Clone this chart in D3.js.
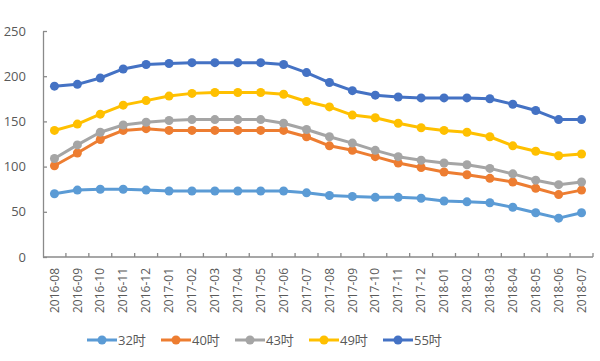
<!DOCTYPE html>
<meta charset="utf-8">
<body style="margin:0;background:#fff">
<div id="chart"></div>
<script src="https://d3js.org/d3.v7.min.js"></script>
<script>

// data
var months = ["2016-08","2016-09","2016-10","2016-11","2016-12","2017-01","2017-02","2017-03",
  "2017-04","2017-05","2017-06","2017-07","2017-08","2017-09","2017-10","2017-11","2017-12",
  "2018-01","2018-02","2018-03","2018-04","2018-05","2018-06","2018-07"];
var s32 = [70,74,75,75,74,73,73,73,73,73,73,71,68,67,66,66,65,62,61,60,55,49,43,49];
var s40 = [101,115,130,140,142,140,140,140,140,140,140,133,123,118,111,104,99,94,91,87,83,76,69,74];
var s43 = [109,124,138,146,149,151,152,152,152,152,148,141,133,126,118,111,107,104,102,98,92,85,80,83];
var s49 = [140,147,158,168,173,178,181,182,182,182,180,172,166,157,154,148,143,140,138,133,123,117,112,114];
var s55 = [189,191,198,208,213,214,215,215,215,215,213,204,193,184,179,177,176,176,176,175,169,162,152,152];
var seriesNames = ["32吋","40吋","43吋","49吋","55吋"];
var yTicks = [0,50,100,150,200,250];

var series = [s32, s40, s43, s49, s55];
var colors = ["#5b9bd5","#ed7d31","#a5a5a5","#ffc000","#4472c4"];

var width = 600, height = 361;
var font = "'Open Sans','Noto Sans CJK SC',sans-serif";
var textColor = "#595959", axisColor = "#8a8a8a";

var svg = d3.select("#chart").append("svg")
    .attr("width", width)
    .attr("height", height)
    .style("font-family", font);

// scales
var x = d3.scaleBand().domain(months).range([43, 593]);
var y = d3.scaleLinear().domain([0, 250]).range([257, 31]);

// y axis, ticks pointing inward
var yAxis = svg.append("g")
    .attr("transform", "translate(43,0)")
    .call(d3.axisLeft(y).tickValues(yTicks).tickSizeInner(-4).tickSizeOuter(0).tickPadding(17));
yAxis.select(".domain").attr("stroke", axisColor).attr("stroke-width", 1.3);
yAxis.selectAll(".tick line").attr("stroke", axisColor).attr("stroke-width", 1.3);
yAxis.selectAll("text").attr("fill", textColor).style("font-size", "13px").style("font-family", font);

// x axis line
svg.append("line")
    .attr("x1", x.range()[0]).attr("x2", x.range()[1])
    .attr("y1", y(0)).attr("y2", y(0))
    .attr("stroke", axisColor).attr("stroke-width", 1.3);

// x tick marks at band boundaries, pointing up
var bounds = months.map(function(m) { return x(m); }).concat([x.range()[1]]);
svg.selectAll(".xtick")
    .data(bounds.slice(1))
  .enter().append("line")
    .attr("class", "xtick")
    .attr("x1", function(d) { return d; })
    .attr("x2", function(d) { return d; })
    .attr("y1", y(0)).attr("y2", y(0) - 4)
    .attr("stroke", axisColor).attr("stroke-width", 1.3);

// rotated month labels
svg.selectAll(".xlabel")
    .data(months)
  .enter().append("text")
    .attr("class", "xlabel")
    .attr("transform", function(d) {
      return "translate(" + (x(d) + x.bandwidth() / 2) + ",268) rotate(-90)";
    })
    .attr("dy", "0.35em")
    .attr("text-anchor", "end")
    .attr("fill", textColor)
    .style("font-size", "12px")
    .text(function(d) { return d; });

// lines and markers
var line = d3.line()
    .x(function(d, i) { return x(months[i]) + x.bandwidth() / 2; })
    .y(function(d) { return y(d); });

series.forEach(function(s, k) {
  svg.append("path")
      .datum(s)
      .attr("fill", "none")
      .attr("stroke", colors[k])
      .attr("stroke-width", 3)
      .attr("stroke-linejoin", "round")
      .attr("d", line);

  svg.selectAll(".dot" + k)
      .data(s)
    .enter().append("circle")
      .attr("class", "dot" + k)
      .attr("cx", function(d, i) { return x(months[i]) + x.bandwidth() / 2; })
      .attr("cy", function(d) { return y(d); })
      .attr("r", 4.5)
      .attr("fill", colors[k]);
});

// legend
var legend = svg.selectAll(".legend")
    .data(seriesNames)
  .enter().append("g")
    .attr("class", "legend")
    .attr("transform", function(d, i) { return "translate(" + (87 + i * 74) + ",340)"; });

legend.append("line")
    .attr("x1", 0).attr("x2", 30)
    .attr("stroke", function(d, i) { return colors[i]; })
    .attr("stroke-width", 3);

legend.append("circle")
    .attr("cx", 15)
    .attr("r", 4.5)
    .attr("fill", function(d, i) { return colors[i]; });

legend.append("text")
    .attr("x", 31)
    .attr("dy", "0.35em")
    .attr("fill", textColor)
    .style("font-size", "13px")
    .text(function(d) { return d; });

</script>
</body>
